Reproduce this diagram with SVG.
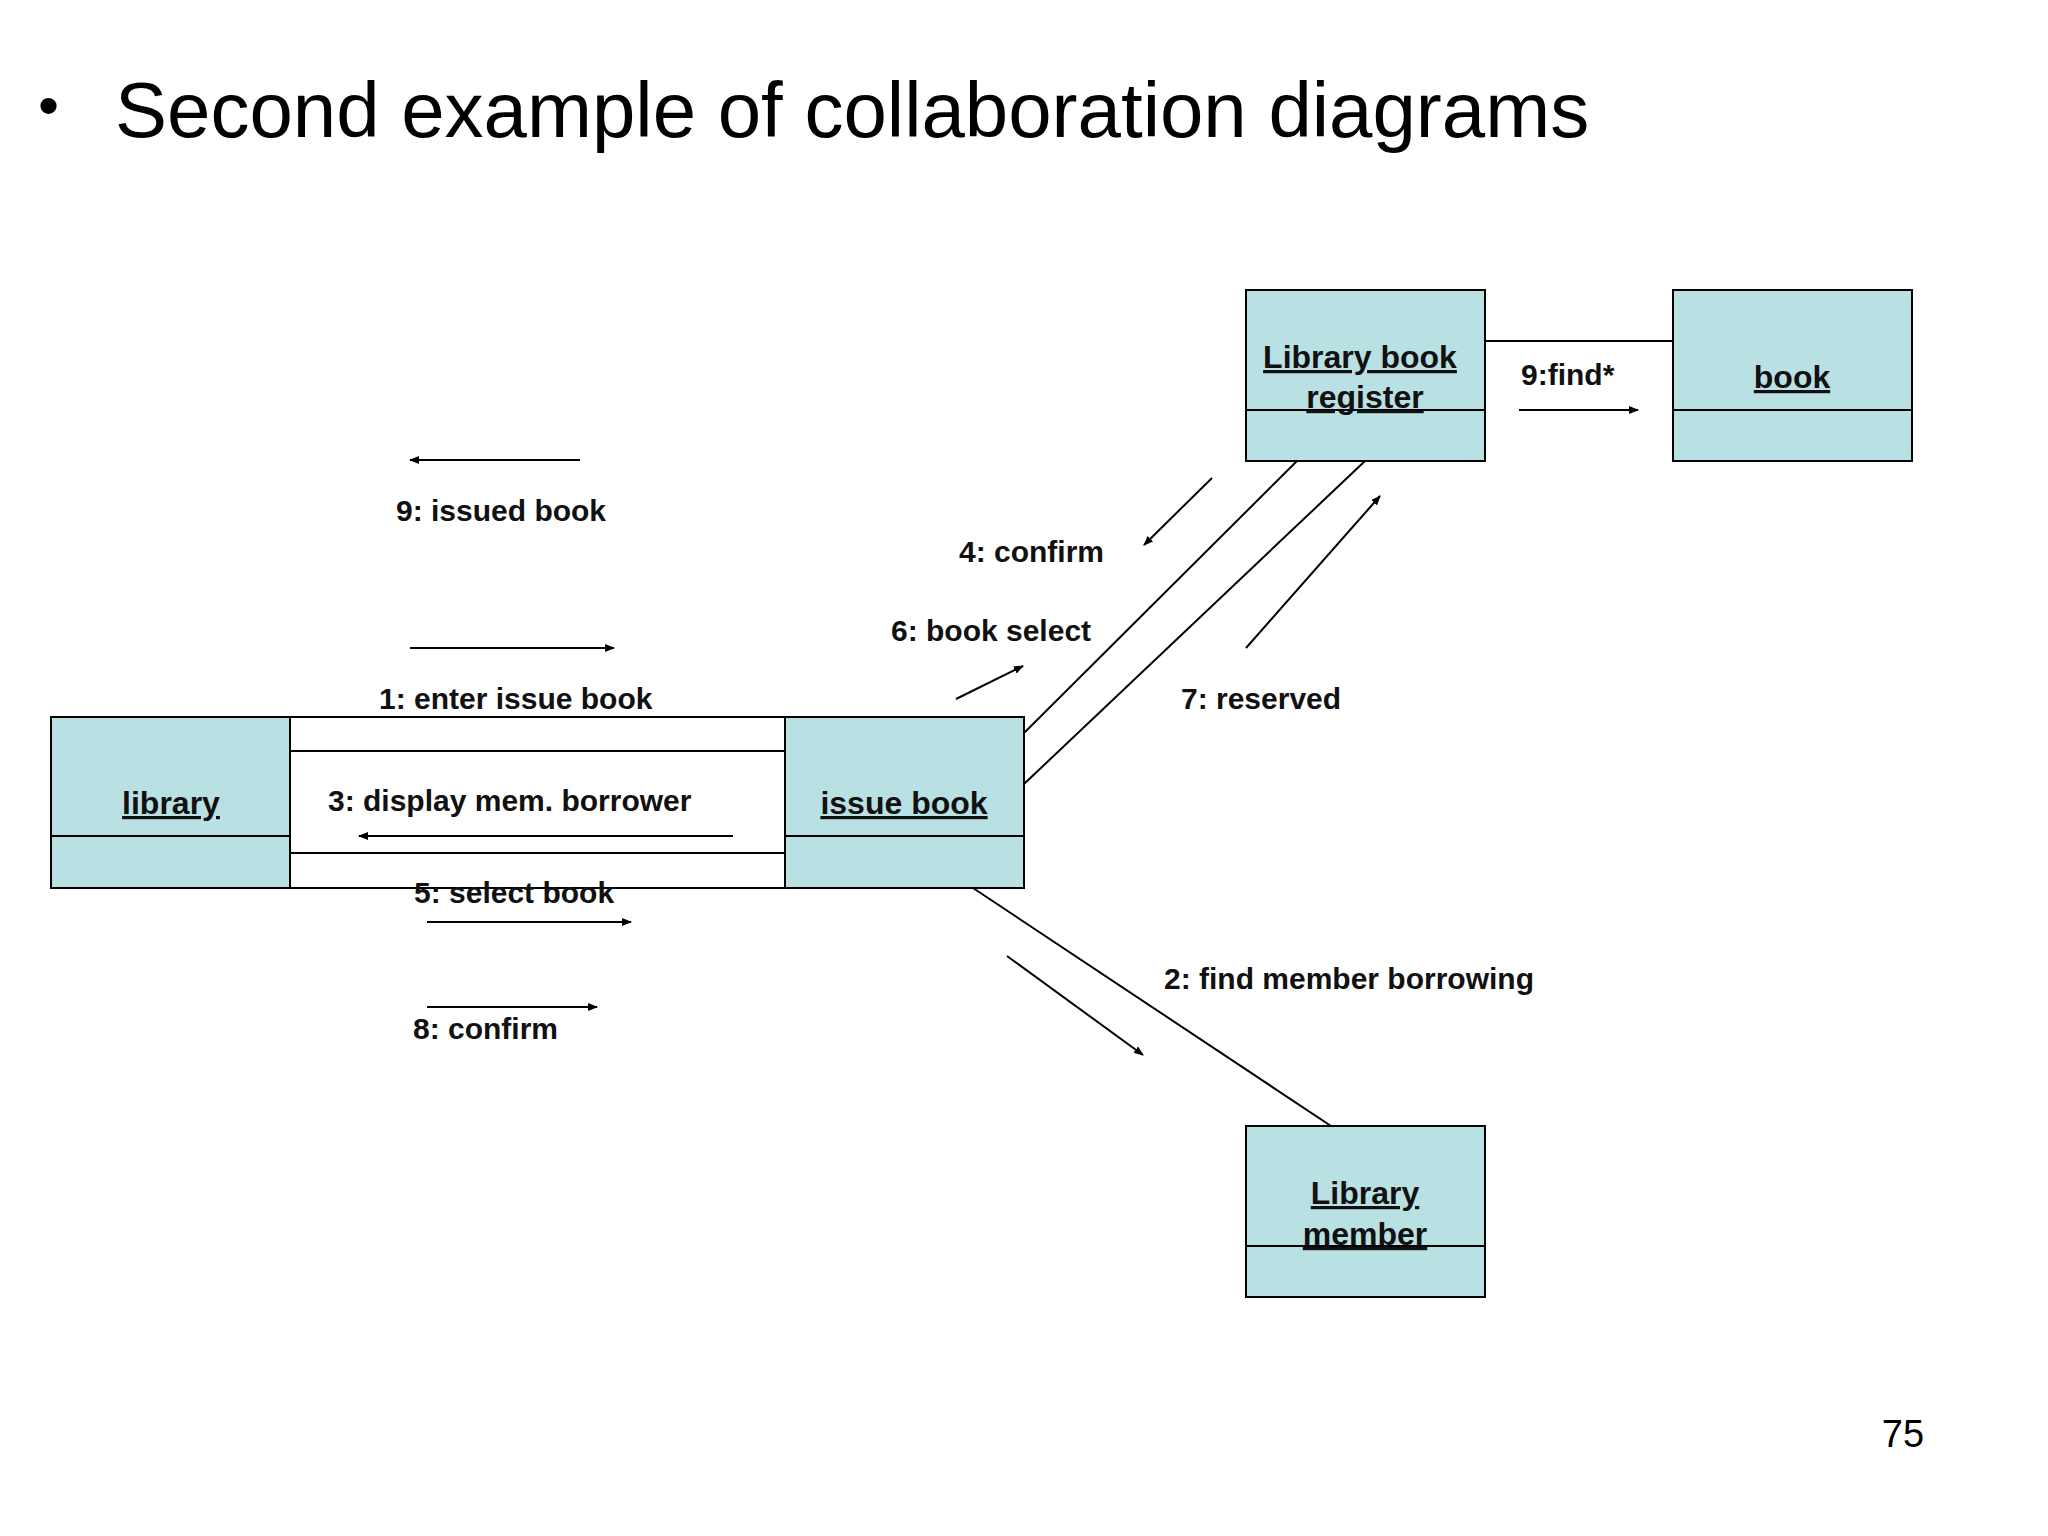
<svg xmlns="http://www.w3.org/2000/svg" width="2048" height="1536" viewBox="0 0 2048 1536">
<defs>
<marker id="ah" markerWidth="10" markerHeight="8" refX="9" refY="4" orient="auto" markerUnits="userSpaceOnUse" viewBox="0 0 10 8"><path d="M0,0 L10,4 L0,8 z" fill="#000"/></marker>
<style>
.box{fill:#b9e0e3;stroke:#000;stroke-width:2}
.ln{stroke:#000;stroke-width:2;fill:none}
.ar{stroke:#000;stroke-width:2;fill:none;marker-end:url(#ah)}
.lb{font-family:"Liberation Sans",Arial,sans-serif;font-weight:bold;font-size:30px;fill:#111}
.nm{font-family:"Liberation Sans",Arial,sans-serif;font-weight:bold;font-size:32px;fill:#111;text-anchor:middle;text-decoration:underline}
</style>
</defs>
<rect width="2048" height="1536" fill="#fff"/>
<text x="38" y="126" font-family="Liberation Sans,Arial,sans-serif" font-size="60">•</text>
<text x="115" y="137" font-family="Liberation Sans,Arial,sans-serif" font-size="78">Second example of collaboration diagrams</text>
<text x="1903" y="1447" font-family="Liberation Sans,Arial,sans-serif" font-size="38" text-anchor="middle">75</text>
<g id="connectors">
<rect x="290" y="717" width="495" height="171" fill="#fff" stroke="#000" stroke-width="2"/>
<line class="ln" x1="290" y1="751" x2="785" y2="751"/>
<line class="ln" x1="290" y1="853" x2="785" y2="853"/>
<line class="ln" x1="1485" y1="341" x2="1673" y2="341"/>
<line class="ln" x1="1024" y1="733" x2="1297" y2="461"/>
<line class="ln" x1="1024" y1="784" x2="1365" y2="461"/>
<line class="ln" x1="973" y1="888" x2="1331" y2="1126"/>
<line class="ar" x1="580" y1="460" x2="410" y2="460"/>
<line class="ar" x1="410" y1="648" x2="614" y2="648"/>
<line class="ar" x1="733" y1="836" x2="359" y2="836"/>
<line class="ar" x1="427" y1="922" x2="631" y2="922"/>
<line class="ar" x1="427" y1="1007" x2="597" y2="1007"/>
<line class="ar" x1="956" y1="699" x2="1023" y2="666"/>
<line class="ar" x1="1212" y1="478" x2="1144" y2="545"/>
<line class="ar" x1="1246" y1="648" x2="1380" y2="496"/>
<line class="ar" x1="1519" y1="410" x2="1638" y2="410"/>
<line class="ar" x1="1007" y1="956" x2="1143" y2="1055"/>
<text class="lb" x="396" y="521">9: issued book</text>
<text class="lb" x="959" y="562">4: confirm</text>
<text class="lb" x="891" y="641">6: book select</text>
<text class="lb" x="379" y="709">1: enter issue book</text>
<text class="lb" x="1181" y="709">7: reserved</text>
<text class="lb" x="328" y="811">3: display mem. borrower</text>
<text class="lb" x="414" y="903">5: select book</text>
<text class="lb" x="413" y="1039">8: confirm</text>
<text class="lb" x="1164" y="989">2: find member borrowing</text>
<text class="lb" x="1521" y="385">9:find*</text>
</g>
<g id="library"><rect class="box" x="51" y="717" width="239" height="171"/><line class="ln" x1="51" y1="836" x2="290" y2="836"/><text class="nm" x="171" y="814">library</text></g>
<g id="issue-book"><rect class="box" x="785" y="717" width="239" height="171"/><line class="ln" x1="785" y1="836" x2="1024" y2="836"/><text class="nm" x="904" y="814">issue book</text></g>
<g id="register"><rect class="box" x="1246" y="290" width="239" height="171"/><line class="ln" x1="1246" y1="410" x2="1485" y2="410"/><text class="nm" x="1360" y="368">Library book </text><text class="nm" x="1365" y="408">register</text></g>
<g id="book"><rect class="box" x="1673" y="290" width="239" height="171"/><line class="ln" x1="1673" y1="410" x2="1912" y2="410"/><text class="nm" x="1792" y="388">book</text></g>
<g id="member"><rect class="box" x="1246" y="1126" width="239" height="171"/><line class="ln" x1="1246" y1="1246" x2="1485" y2="1246"/><text class="nm" x="1365" y="1204">Library</text><text class="nm" x="1365" y="1245">member</text></g>
</svg>
